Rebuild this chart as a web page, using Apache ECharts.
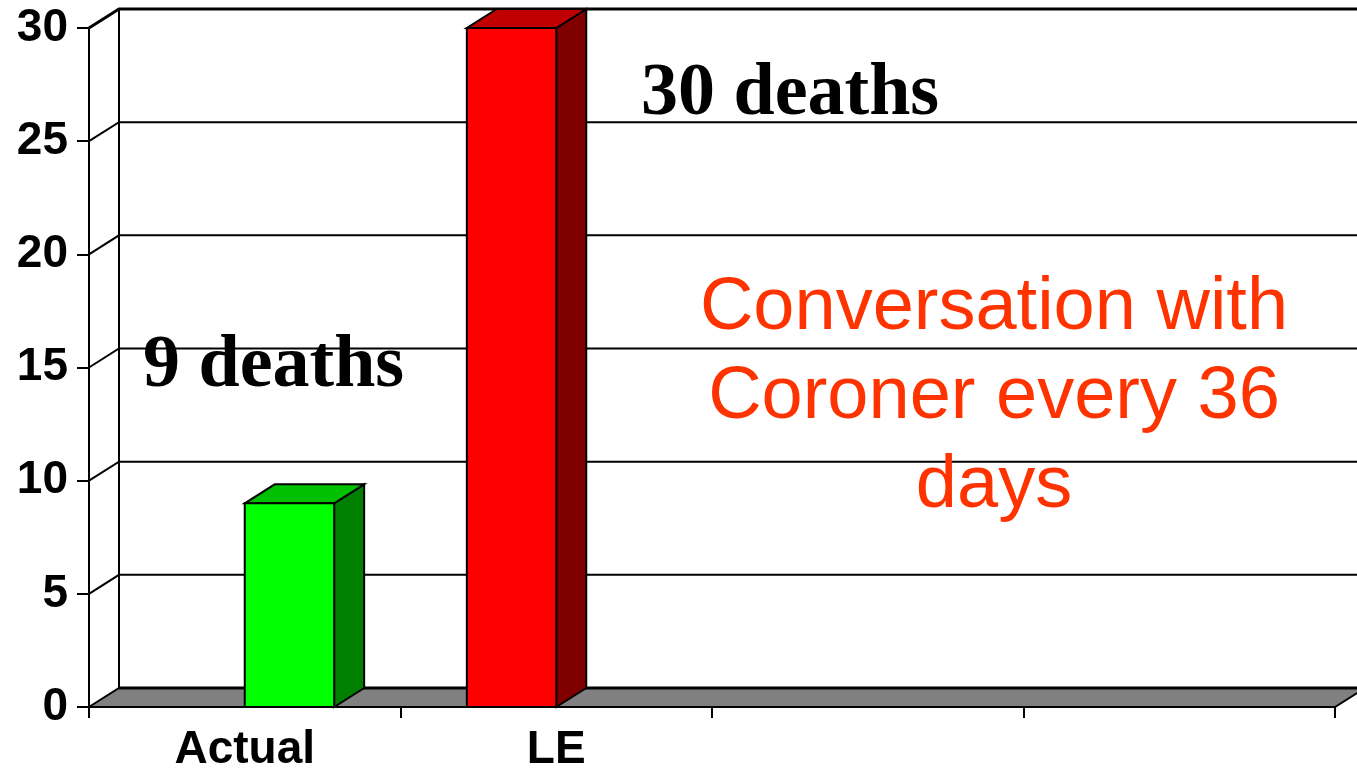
<!DOCTYPE html>
<html>
<head>
<meta charset="utf-8">
<script src="https://cdn.jsdelivr.net/npm/echarts@6/dist/echarts.min.js"></script>
<style>
html,body{margin:0;padding:0;background:#fff;}
#chart{width:1357px;height:774px;}
</style>
</head>
<body>
<div id="chart"></div>
<script>
// ---- data ----
const categories = ['Actual', 'LE', '', ''];
const deaths = [9, 30];
const yTicks = [0, 5, 10, 15, 20, 25, 30];
const annotations = ['9 deaths', '30 deaths'];
const note = 'Conversation with\nCoroner every 36\ndays';

// ---- styles ----
const DX = 30, DY = 19;               // 3D depth offset (px)
const barWidthFrac = 0.287;           // bar width as fraction of band
const barShift = [0, -1];             // front-face left edge = center + shift*width
const frontColors = ['#00FF00', '#FF0000'];
const topColors = ['#00C000', '#C00000'];
const sideColors = ['#008000', '#800000'];

const chart = echarts.init(document.getElementById('chart'));

const option = {
  backgroundColor: '#ffffff',
  animation: false,
  grid: { left: 89, right: 22, top: 28, bottom: 67, containLabel: false },
  xAxis: {
    type: 'category',
    data: categories,
    boundaryGap: true,
    axisLine: { show: true, lineStyle: { color: '#000', width: 2 } },
    axisTick: { show: true, interval: 0, length: 11, lineStyle: { color: '#000', width: 2 } },
    axisLabel: { interval: 0, margin: 20, color: '#000', fontFamily: 'Liberation Sans', fontWeight: 'bold', fontSize: 46 },
    splitLine: { show: false },
    z: 10
  },
  yAxis: {
    type: 'value',
    min: 0, max: 30, interval: 5,
    axisLine: { show: true, lineStyle: { color: '#000', width: 2 } },
    axisTick: { show: true, length: 12, lineStyle: { color: '#000', width: 2 } },
    axisLabel: { margin: 21, color: '#000', fontFamily: 'Liberation Sans', fontWeight: 'bold', fontSize: 46 },
    splitLine: { show: false }
  },
  series: [
    {
      type: 'custom',
      name: 'walls',
      z: 1,
      clip: false,
      data: yTicks.map(v => [0, v]),
      encode: { x: 0, y: 1 },
      renderItem: function (params, api) {
        const cs = params.coordSys;
        const v = api.value(1);
        const y = api.coord([0, v])[1];
        const x0 = cs.x;
        const right = cs.x + cs.width + DX + 40;
        const vMax = yTicks[yTicks.length - 1];
        const children = [];
        if (v === 0) {
          const yTop = api.coord([0, vMax])[1];
          children.push({
            type: 'polygon',
            shape: { points: [[x0, y], [cs.x + cs.width, y], [cs.x + cs.width + DX, y - DY], [x0 + DX, y - DY]] },
            style: { fill: '#808080', stroke: '#000', lineWidth: 2 }
          });
          children.push({
            type: 'line',
            shape: { x1: x0 + DX, y1: y - DY, x2: right, y2: y - DY },
            style: { stroke: '#000', lineWidth: 3 }
          });
          children.push({
            type: 'line',
            shape: { x1: x0 + DX, y1: y - DY, x2: x0 + DX, y2: yTop - DY },
            style: { stroke: '#000', lineWidth: 2 }
          });
        } else {
          children.push({
            type: 'polyline',
            shape: { points: [[x0, y], [x0 + DX, y - DY], [right, y - DY]] },
            style: { stroke: '#000', lineWidth: v === vMax ? 3 : 2, fill: null }
          });
        }
        return { type: 'group', children: children };
      }
    },
    {
      type: 'custom',
      name: 'bars',
      z: 5,
      clip: false,
      data: deaths.map((v, i) => [i, v]),
      encode: { x: 0, y: 1 },
      renderItem: function (params, api) {
        const i = params.dataIndex;
        const cat = api.value(0), val = api.value(1);
        const top = api.coord([cat, val]);
        const base = api.coord([cat, 0]);
        const band = api.size([1, 0])[0];
        const w = band * barWidthFrac;
        const l = top[0] + barShift[i] * w;
        const t = top[1], b = base[1];
        const stroke = '#000', lw = 2;
        return {
          type: 'group',
          children: [
            { type: 'polygon', shape: { points: [[l + w, t], [l + w + DX, t - DY], [l + w + DX, b - DY], [l + w, b]] },
              style: { fill: sideColors[i], stroke: stroke, lineWidth: lw } },
            { type: 'polygon', shape: { points: [[l, t], [l + w, t], [l + w + DX, t - DY], [l + DX, t - DY]] },
              style: { fill: topColors[i], stroke: stroke, lineWidth: lw } },
            { type: 'rect', shape: { x: l, y: t, width: w, height: b - t },
              style: { fill: frontColors[i], stroke: stroke, lineWidth: lw } }
          ]
        };
      }
    }
  ],
  graphic: [
    { type: 'text', x: 143, y: 367, z: 20,
      style: { text: annotations[0], fill: '#000', fontFamily: 'Liberation Serif', fontWeight: 'bold', fontSize: 74,
               align: 'left', verticalAlign: 'middle' } },
    { type: 'text', x: 641, y: 95, z: 20,
      style: { text: annotations[1], fill: '#000', fontFamily: 'Liberation Serif', fontWeight: 'bold', fontSize: 74,
               align: 'left', verticalAlign: 'middle' } },
    { type: 'text', x: 994, y: 264, z: 20,
      style: { text: note, fill: '#FF3300', fontFamily: 'Liberation Sans', fontSize: 74, lineHeight: 89,
               align: 'center', verticalAlign: 'top' } }
  ]
};
chart.setOption(option);
</script>
</body>
</html>
